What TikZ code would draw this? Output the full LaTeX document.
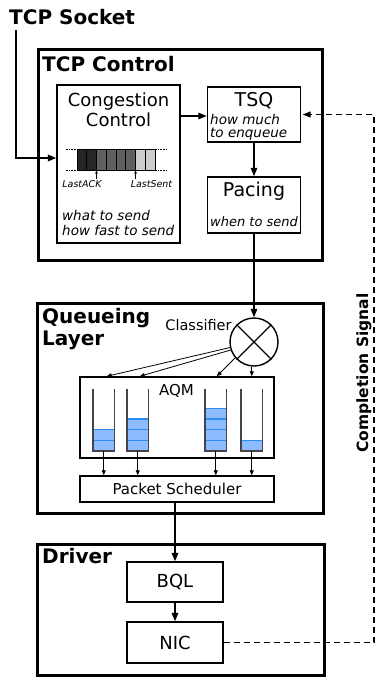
\documentclass[tikz,border=0pt]{standalone}
\usepackage{fontspec}
\setmainfont{DejaVu Sans}
\usetikzlibrary{arrows.meta}
\newcommand{\fsz}[1]{\fontsize{#1}{#1}\selectfont}

\definecolor{stripdark}{HTML}{262626}
\definecolor{stripmid}{HTML}{606060}
\definecolor{striplight}{HTML}{CCCCCC}
\definecolor{pktfill}{HTML}{8CBCFF}
\definecolor{pktedge}{HTML}{2E8BF0}
\definecolor{wall}{HTML}{444444}

\begin{document}
\begin{tikzpicture}[x=1pt,y=-1pt,
  layer/.style={draw,line width=3pt,inner sep=0pt},
  blk/.style={draw,line width=1.4pt,inner sep=0pt},
  arr/.style={line width=1.6pt,-{Triangle[length=8.5pt,width=6.5pt]}},
  thinarr/.style={line width=0.8pt,-{Triangle[length=5pt,width=4pt]}},
  ptr/.style={line width=0.6pt,-{Triangle[length=3pt,width=2.5pt]}},
  title/.style={anchor=base west,inner sep=0pt,font=\fsz{20}\bfseries},
  lbl/.style={anchor=base,inner sep=0pt},
  note/.style={anchor=base west,inner sep=0pt,font=\fsz{13.5}\itshape},
  pkt/.style={draw=pktedge,fill=pktfill,line width=1.2pt},
  bucket/.style={draw=wall,line width=1.2pt},
  signal/.style={line width=1.1pt,dash pattern=on 6pt off 4pt,-{Triangle[length=8pt,width=6pt]}},
]
\useasboundingbox (0,0) rectangle (376,677);

% ---------- layers ----------
\node[layer,minimum width=284pt,minimum height=210pt] (tcpctl) at (180,155) {};
\node[layer,minimum width=286pt,minimum height=210pt] (qlayer) at (180,408) {};
\node[layer,minimum width=287pt,minimum height=131pt] (driver) at (180.5,609.5) {};

\node[title] (sockettitle) at (9,25) {TCP Socket};
\node[title] (tcptitle) at (42,71) {TCP Control};
\node[title] (qtitle1) at (42,323) {Queueing};
\node[title] (qtitle2) at (42,345) {Layer};
\node[title] (drvtitle) at (42,563) {Driver};

% ---------- TCP control ----------
\node[blk,minimum width=123pt,minimum height=158pt] (cc) at (118.5,164) {};
\node[lbl,font=\fsz{18}] (cctext1) at (118.5,106.5) {Congestion};
\node[lbl,font=\fsz{18}] (cctext2) at (118.5,126.5) {Control};

% send window strip
\foreach \i/\c in {0/stripdark,1/stripdark,2/stripmid,3/stripmid,4/stripmid,5/stripmid,6/striplight,7/striplight}
  \filldraw[fill=\c,draw=black,line width=0.6pt] ({77+\i*9.75},149) rectangle ++(9.75,21);
\draw[line width=0.5pt,dash pattern=on 1.5pt off 1.2pt] (66,149) -- (77,149) (66,170) -- (77,170)
  (155,149) -- (166,149) (155,170) -- (166,170);
\coordinate (ackpt) at (96.5,170.5);
\coordinate (sentpt) at (135.5,170.5);
\draw[ptr] (ackpt |- 0,179) -- (ackpt);
\draw[ptr] (sentpt |- 0,179) -- (sentpt);
\node[lbl,font=\fsz{9.5}\itshape] (lastack) at (82,187) {LastACK};
\node[lbl,font=\fsz{9.5}\itshape] (lastsent) at (151.5,187) {LastSent};

\node[note] (ccnote1) at (62,220) {what to send};
\node[note] (ccnote2) at (62,235.5) {how fast to send};

\node[blk,minimum width=93pt,minimum height=55pt] (tsq) at (254,114.5) {};
\node[lbl,font=\fsz{19}] (tsqtext) at (254,106.5) {TSQ};
\node[note] (tsqnote1) at (210,124.5) {how much};
\node[note] (tsqnote2) at (210,137) {to enqueue};

\node[blk,minimum width=93pt,minimum height=56pt] (pacing) at (254,205) {};
\node[lbl,font=\fsz{19}] (pacingtext) at (254,196.5) {Pacing};
\node[note,font=\fsz{13}\itshape] (pacingnote) at (210,226.5) {when to send};

% ---------- queueing layer ----------
\node[draw,circle,line width=1.4pt,minimum size=48pt,inner sep=0pt] (clsf) at (254,342) {};
\draw[line width=1.2pt] (clsf.45) -- (clsf.225) (clsf.135) -- (clsf.315);
\node[lbl,font=\fsz{14.5}] (clsftext) at (198.5,330) {Classifier};

\node[blk,minimum width=194pt,minimum height=81pt] (aqm) at (177,417.5) {};
\node[lbl,font=\fsz{15}] (aqmtext) at (176.5,395) {AQM};

\foreach \x/\n [count=\k] in {93/2,127/3,205/4,241/1} {
  \foreach \j in {1,...,\n}
    \filldraw[pkt] (\x,{451-\j*10.7}) rectangle ++(21.5,10.7);
  \draw[bucket] (\x,389) -- (\x,451) -- ({\x+21.5},451) -- ({\x+21.5},389);
  \coordinate (qb\k) at ({\x+10.75},451);
}

\node[blk,minimum width=194pt,minimum height=26pt,font=\fsz{15}] (sched) at (177,489) {Packet Scheduler};

\draw[thinarr] (clsf.193) -- ([xshift=3pt]qb1 |- aqm.north);
\draw[thinarr] (clsf.199) -- ([xshift=2pt]qb2 |- aqm.north);
\draw[thinarr] (clsf.220) -- ([xshift=1pt]qb3 |- aqm.north);
\draw[thinarr] (qb4 |- clsf.south) -- (qb4 |- aqm.north);
\foreach \k in {1,...,4}
  \draw[thinarr] (qb\k) -- (qb\k |- sched.north);

% ---------- driver ----------
\node[blk,minimum width=96pt,minimum height=40pt,font=\fsz{18}] (bql) at (175,582) {BQL};
\node[blk,minimum width=96pt,minimum height=41pt,font=\fsz{18}] (nic) at (175,642.5) {NIC};

% ---------- data path ----------
\coordinate (sockettap) at (16,30);
\coordinate (socketturn) at (16,158);
\draw[arr,line width=1.8pt] (sockettap) -- (socketturn) -- (socketturn -| cc.west);
\draw[arr] ([yshift=-1.5pt]cc.east |- tsq.west) -- ([yshift=-1.5pt]tsq.west);
\draw[arr] (tsq.south) -- (pacing.north);
\draw[arr] (pacing.south) -- (clsf.north);
\draw[arr] (sched.south -| bql.north) -- (bql.north);
\draw[arr] (bql.south) -- (nic.north);

% ---------- completion signal ----------
\coordinate (sigbot) at (374,642.5);
\coordinate (sigtop) at (374,114.5);
\draw[signal] (nic.east) -- (sigbot) -- (sigtop) -- ([xshift=1.5pt]tsq.east);
\node[rotate=90,inner sep=0pt,font=\fsz{15.5}\bfseries] (sigtext) at (364,373) {Completion Signal};
\end{tikzpicture}
\end{document}
